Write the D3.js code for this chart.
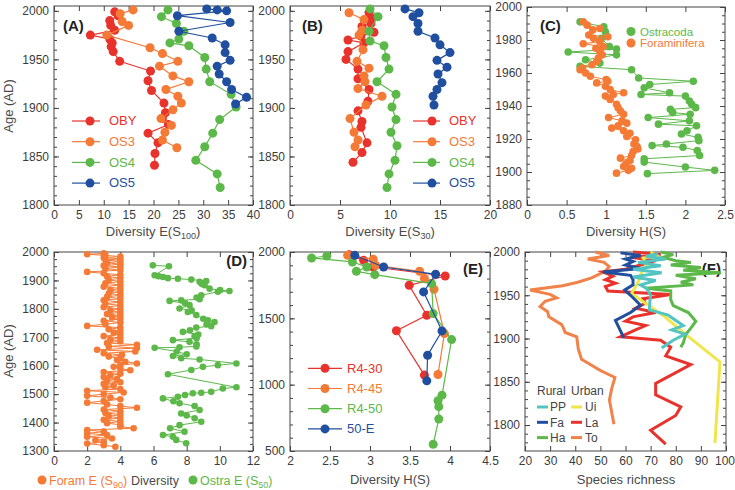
<!DOCTYPE html>
<html>
<head>
<meta charset="utf-8">
<script src="https://cdn.jsdelivr.net/npm/d3@7"></script>
<style>
  body { margin: 0; background: #fff; }
  text { font-family: "Liberation Sans", Arial, sans-serif; }
</style>
</head>
<body>
<svg id="chart" width="735" height="490"></svg>
<script>
// ---- data: [year, value] ----
// (A) Diversity E(S100)
const obyA = [[1999,12.2],[1995,12.9],[1990,11.2],[1985,11.4],[1980,12.2],[1975,7.3],[1971,11.2],[1967,11.7],[1963,11.5],[1958,11.9],[1948,13.2],[1938,19.4],[1928,18.9],[1918,19.6],[1905,22.1],[1895,22.4],[1889,21.8],[1883,23.0],[1874,18.9],[1864,20.9],[1853,20.3],[1841,20.2]];
const os3A = [[2001,15.9],[1997,13.3],[1989,13.7],[1985,15.0],[1975,10.6],[1962,19.3],[1956,21.8],[1948,24.9],[1943,21.2],[1933,23.9],[1927,27.1],[1919,22.5],[1912,24.9],[1905,25.6],[1898,23.9],[1889,21.5],[1882,23.6],[1875,22.3],[1867,21.8],[1859,24.7]];
const os4A = [[2001,22.9],[1994,21.6],[1987,24.6],[1979,26.1],[1971,25.1],[1967,23.3],[1964,27.1],[1952,30.3],[1940,30.6],[1927,31.3],[1914,35.6],[1901,36.6],[1888,33.3],[1874,31.9],[1860,30.3],[1846,28.5],[1832,32.8],[1818,33.4]];
const os5A = [[2002,30.7],[2001,32.8],[2000,34.7],[1995,24.8],[1988,35.4],[1979,25.1],[1972,31.8],[1965,34.4],[1957,34.4],[1949,35.4],[1943,32.8],[1935,33.2],[1927,34.7],[1919,35.7],[1911,38.7],[1904,36.5]];

// (B) Diversity E(S30)
const obyB = [[1998,7.9],[1993,8.1],[1987,8.1],[1984,7.2],[1978,8.4],[1974,7.1],[1970,5.8],[1967,7.4],[1958,5.8],[1950,5.6],[1940,6.8],[1930,6.8],[1919,7.9],[1907,7.8],[1897,6.8],[1886,7.2],[1880,7.1],[1864,7.7],[1854,7.2],[1844,6.3]];
const os3B = [[1998,5.9],[1991,7.4],[1980,7.2],[1975,6.9],[1960,7.3],[1948,6.7],[1941,7.9],[1933,7.4],[1927,7.5],[1920,6.8],[1912,9.2],[1903,7.6],[1889,6.0],[1875,6.4],[1867,6.8],[1860,6.5]];
const os4B = [[2002,8.0],[1994,8.8],[1979,7.9],[1969,8.0],[1964,9.4],[1952,9.6],[1940,9.9],[1927,8.7],[1914,10.6],[1901,10.2],[1888,10.6],[1875,10.1],[1861,10.7],[1846,10.5],[1832,9.9],[1818,9.7]];
const os5B = [[2002,11.5],[1998,12.9],[1994,12.3],[1987,12.8],[1979,12.8],[1972,14.5],[1965,15.0],[1957,16.0],[1949,14.7],[1942,15.7],[1935,14.8],[1926,15.2],[1919,14.7],[1912,14.3],[1903,14.4]];

// (C) Diversity H(S)
const ostracodaC = [[1991,0.67],[1988,0.97],[1985,0.99],[1981,0.94],[1976,1.04],[1974.5,1.13],[1972.7,0.52],[1971,1.13],[1968,0.74],[1966,0.92],[1964,0.67],[1962,1.32],[1957,1.41],[1955,2.10],[1953,1.55],[1951,1.48],[1948,1.80],[1947,1.44],[1946,2.00],[1943,2.05],[1941,2.08],[1939,2.13],[1938,1.81],[1936,1.84],[1935,2.06],[1933,1.53],[1931,2.05],[1929,1.66],[1928,2.14],[1925,2.02],[1923,1.95],[1921,2.16],[1919,2.17],[1917,1.76],[1916,1.58],[1915,1.97],[1913,2.15],[1910,2.18],[1908,1.48],[1906,1.48],[1903,2.00],[1901,2.37],[1899,1.52]];
const foramC = [[1991,0.71],[1989,0.76],[1987,0.92],[1986,0.83],[1983,0.78],[1982,1.02],[1981,0.84],[1979,0.92],[1977.7,0.71],[1976,0.96],[1975,0.87],[1973,0.92],[1971,0.95],[1969,0.90],[1967,0.88],[1965,0.82],[1963,0.70],[1962,0.67],[1960,0.74],[1958,0.80],[1956,1.00],[1955,1.02],[1954,0.88],[1952,0.99],[1950,1.05],[1948,1.22],[1947,1.09],[1946,0.99],[1944,1.05],[1941,1.13],[1939,1.15],[1937,1.18],[1935,1.22],[1933,1.03],[1931,1.20],[1929.6,1.26],[1928,1.15],[1926.6,1.07],[1925,1.22],[1923.5,1.30],[1921.5,1.26],[1919.5,1.37],[1917,1.35],[1915.4,1.39],[1914,1.40],[1912.4,1.34],[1910,1.32],[1908.4,1.18],[1907,1.30],[1905,1.25],[1903.3,1.22],[1902.3,1.32],[1901,1.28],[1899.3,1.13]];

// (D) Foram E(S90) and Ostra E(S50)
const foramD = [[1995,3.0],[1992,2.0],[1988,3.1],[1984,4.0],[1980,3.0],[1976,4.0],[1972,3.1],[1967,4.0],[1962,3.2],[1957,4.0],[1952,3.0],[1947,4.0],[1942,3.1],[1936,4.0],[1930,2.0],[1925,3.0],[1920,4.0],[1914,3.2],[1908,4.0],[1902,3.3],[1896,4.0],[1890,3.1],[1884,4.0],[1878,3.0],[1872,4.0],[1866,3.4],[1860,4.0],[1854,3.3],[1848,4.0],[1842,3.2],[1836,4.0],[1830,3.0],[1824,4.0],[1818,3.1],[1812,4.0],[1806,3.0],[1800,4.0],[1794,3.4],[1788,4.0],[1782,3.2],[1776,4.0],[1770,3.5],[1764,4.0],[1758,3.0],[1752,4.0],[1746,3.1],[1740,2.0],[1734,4.0],[1728,3.3],[1722,4.0],[1716,3.6],[1710,4.0],[1704,3.0],[1698,4.0],[1692,3.4],[1686,4.0],[1680,3.2],[1674,5.0],[1668,3.3],[1662,5.0],[1656,2.6],[1650,4.9],[1644,3.0],[1638,4.1],[1632,3.3],[1626,4.0],[1620,3.8],[1614,4.3],[1608,5.0],[1602,4.0],[1596,3.6],[1590,4.0],[1584,4.6],[1578,3.0],[1572,4.0],[1566,3.4],[1560,3.0],[1554,3.8],[1548,3.2],[1542,4.0],[1536,3.0],[1530,3.6],[1524,3.1],[1518,4.0],[1512,2.0],[1506,4.2],[1500,3.0],[1494,2.0],[1488,3.4],[1482,4.0],[1476,3.0],[1470,2.0],[1464,3.2],[1458,4.0],[1452,5.0],[1446,3.0],[1440,4.0],[1434,3.1],[1428,4.0],[1422,3.3],[1416,4.0],[1410,3.0],[1404,4.0],[1398,3.2],[1392,4.0],[1386,4.0],[1380,4.8],[1374,2.0],[1368,3.0],[1362,2.0],[1356,3.2],[1350,2.0],[1344,3.5],[1338,2.5],[1332,3.0],[1326,2.0],[1320,3.0],[1315,3.7]];
const ostraD = [[1953,5.96],[1950,6.93],[1918,6.07],[1915,6.3],[1912,6.57],[1908,6.87],[1906,7.47],[1903,8.28],[1898,9.18],[1895,8.78],[1888,8.9],[1883,9.08],[1871,9.38],[1866,10.02],[1863,10.58],[1860,9.88],[1848,8.88],[1840,8.6],[1834,8.78],[1830,7.67],[1828,6.97],[1820,7.9],[1813,8.17],[1801,7.57],[1795,8.3],[1789,8.07],[1778,8.58],[1765,9.0],[1760,9.28],[1754,9.68],[1745,9.2],[1739,9.48],[1734,8.58],[1725,8.2],[1719,7.77],[1710,8.7],[1704,8.48],[1697,8.6],[1690,7.17],[1684,8.17],[1675,8.6],[1668,8.58],[1665,7.57],[1663,6.07],[1650,7.4],[1640,8.0],[1634,7.17],[1626,7.67],[1622,8.78],[1608,11.0],[1602,9.88],[1596,8.98],[1585,8.28],[1570,6.87],[1524,11.0],[1520,10.18],[1508,9.48],[1505,8.88],[1503,8.37],[1497,7.9],[1491,7.47],[1485,6.57],[1475,7.2],[1468,7.57],[1458,8.48],[1444,8.78],[1432,7.67],[1425,8.0],[1415,8.48],[1403,8.88],[1391,7.57],[1380,7.0],[1368,7.87],[1356,6.57],[1350,7.17],[1339,7.37],[1327,7.97]];

// (E) Diversity H(S)
const r430 = [[1980,2.74],[1937,2.92],[1887,3.04],[1819,3.94],[1749,3.49],[1523,3.71],[1406,3.33],[1072,3.68]];
const r445 = [[1975,2.72],[1945,3.04],[1900,3.07],[1855,3.62],[1800,3.68],[1719,3.80],[1385,3.93],[1077,3.85]];
const r450 = [[1970,2.46],[1955,2.27],[1925,2.78],[1887,2.96],[1855,2.83],[1829,3.06],[1762,3.77],[1536,3.79],[1340,4.02],[921,3.90],[879,3.85],[834,3.86],[741,3.86],[550,3.79]];
const e50 = [[1975,2.81],[1887,3.17],[1832,3.82],[1699,3.67],[1405,3.90],[1222,3.72],[1029,3.71]];

// (F) Species richness
const ppF = [[1998,73],[1995,68],[1992,76],[1988,65],[1984,74],[1980,63],[1976,74.4],[1971,63],[1967,72],[1962,66],[1958,68.4],[1950,70],[1942,69.7],[1933,69.5],[1927,77],[1915,83],[1910,78.4],[1905,83.7],[1898,79],[1889,74.4]];
const faF = [[1999,58],[1996,66],[1992,60],[1989,63],[1985,60],[1981,66],[1977,51],[1973,62],[1968,63],[1962,63],[1956,59.7],[1950,62],[1938.5,66],[1930,62],[1921,56],[1901,59.3]];
const haF = [[2000,74],[1997,79],[1994,75],[1990,80],[1988,86],[1985,78],[1982,90],[1979,83],[1976,98],[1973,80],[1969,88],[1965,82],[1962,87],[1958,68],[1955,78],[1950,78],[1945,78],[1938,79],[1930,85],[1920,88],[1912,86],[1905,84],[1895,83],[1890,82]];
const uiF = [[2000,70],[1996,72.4],[1993,67],[1986,68.4],[1976,66.4],[1965,65],[1952,62.4],[1925,75.7],[1904,84.3],[1873,97.6],[1779,95.6]];
const laF = [[2000,63],[1997,74],[1994,62],[1990,72],[1985,66],[1980,60],[1977,51],[1972,55],[1968,52],[1964,56],[1960,52],[1955,53],[1951,78],[1946,67],[1941,68],[1935,64],[1930,72],[1925,63],[1920,60],[1915,68],[1910,64],[1902,58],[1898,74],[1890,78],[1880,76],[1870,86],[1848,72],[1835,72],[1821,82],[1811,80],[1794,70],[1778,76]];
const toF = [[2000,48],[1996,53.5],[1992,45],[1988,51.5],[1983,53.5],[1978,52],[1975,50],[1970,46.5],[1965,41],[1961,35],[1956,22],[1951,30],[1947,32.6],[1943,28],[1937,26],[1931,29],[1925,29.5],[1916,34.6],[1912,35.3],[1907,36],[1902,40.6],[1888,41.2],[1876,42.5],[1863,50],[1855,55.8],[1842,54.5],[1829,53.6],[1801,55.4]];

const RED = "#e8322c", ORANGE = "#f47a36", GREEN = "#5db84a", BLUE = "#1f4f9e";
const CYAN = "#52c4c2", YELLOW = "#efe64c", SALMON = "#f0824a";
const TXT = "#3c3c3c";

const svg = d3.select("#chart");

function panel(p) {
  const g = svg.append("g");
  const x = d3.scaleLinear().domain(p.xdom).range([p.x0, p.x1]);
  const y = d3.scaleLinear().domain(p.ydom).range([p.y1, p.y0]);
  const sides = [
    [d3.axisBottom, `translate(0,${p.y1})`, x, p.xticks, p.xminor, true],
    [d3.axisTop, `translate(0,${p.y0})`, x, p.xticks, null, false],
    [d3.axisLeft, `translate(${p.x0},0)`, y, p.yticks, p.yminor, true],
    [d3.axisRight, `translate(${p.x1},0)`, y, p.yticks, p.yminor, false]
  ];
  sides.forEach(([fn, tr, sc, major, minor, lab]) => {
    if (minor) {
      g.append("g").attr("transform", tr)
        .call(fn(sc).tickValues(minor).tickSize(-3).tickFormat(""))
        .call(a => a.select(".domain").remove())
        .selectAll("line").attr("stroke", "#444");
    }
    const ax = g.append("g").attr("transform", tr)
      .call(fn(sc).tickValues(major).tickSize(-5).tickPadding(5).tickFormat(lab ? d3.format("") : ""));
    ax.select(".domain").remove();
    ax.selectAll("line").attr("stroke", "#444");
    ax.selectAll("text").attr("fill", TXT).style("font-size", "12px");
  });
  g.append("rect").attr("x", p.x0).attr("y", p.y0)
    .attr("width", p.x1 - p.x0).attr("height", p.y1 - p.y0)
    .attr("fill", "none").attr("stroke", "#444").attr("stroke-width", 1);
  g.append("text").attr("x", p.lx).attr("y", p.ly).attr("text-anchor", p.lanchor || "start")
    .attr("font-weight", "bold").attr("font-size", 15).attr("fill", "#222").text(p.label);
  return { g, x, y };
}

function series(P, data, color, r, lw) {
  P.g.append("path").datum(data)
    .attr("fill", "none").attr("stroke", color).attr("stroke-width", lw)
    .attr("d", d3.line().x(d => P.x(d[1])).y(d => P.y(d[0])));
  if (r > 0) {
    P.g.selectAll(null).data(data).join("circle")
      .attr("cx", d => P.x(d[1])).attr("cy", d => P.y(d[0]))
      .attr("r", r).attr("fill", color);
  }
}

function legendRow(x1, x2, xm, xt, yc, color, name, r, lw, fs) {
  svg.append("line").attr("x1", x1).attr("x2", x2).attr("y1", yc).attr("y2", yc)
    .attr("stroke", color).attr("stroke-width", lw);
  if (r > 0) svg.append("circle").attr("cx", xm).attr("cy", yc).attr("r", r).attr("fill", color);
  svg.append("text").attr("x", xt).attr("y", yc + 4.3).attr("font-size", fs || 13)
    .attr("fill", color).text(name);
}

function subTitle(x, y, pre, sub, post, color, anchor, fs) {
  const t = svg.append("text").attr("x", x).attr("y", y)
    .attr("text-anchor", anchor || "middle").attr("font-size", fs || 13).attr("fill", color || "#4a4a4a");
  t.append("tspan").text(pre);
  if (sub) {
    t.append("tspan").attr("dy", 3).attr("font-size", 9).text(sub);
    t.append("tspan").attr("dy", -3).text(post);
  }
  return t;
}

const range = (a, b, s) => d3.range(a, b + s / 2, s);

// ---- top row ----
const A = panel({ x0: 54, x1: 253, y0: 6, y1: 205, xdom: [0, 40], ydom: [1800, 2005],
  xticks: range(0, 40, 5), yticks: range(1800, 2000, 50), yminor: range(1800, 2000, 10),
  label: "(A)", lx: 63, ly: 31 });
series(A, obyA, RED, 4.5, 1.2);
series(A, os3A, ORANGE, 4.5, 1.2);
series(A, os4A, GREEN, 4.5, 1.2);
series(A, os5A, BLUE, 4.5, 1.2);
[["OBY", RED], ["OS3", ORANGE], ["OS4", GREEN], ["OS5", BLUE]].forEach(([n, c], i) =>
  legendRow(72, 100, 90, 109, 121 + i * 20.7, c, n, 4.5, 1.2));

const B = panel({ x0: 290, x1: 490, y0: 6, y1: 205, xdom: [0, 20], ydom: [1800, 2005],
  xticks: range(0, 20, 5), yticks: range(1800, 2000, 50), yminor: range(1800, 2000, 10),
  label: "(B)", lx: 302, ly: 31 });
series(B, obyB, RED, 4.5, 1.2);
series(B, os3B, ORANGE, 4.5, 1.2);
series(B, os4B, GREEN, 4.5, 1.2);
series(B, os5B, BLUE, 4.5, 1.2);
[["OBY", RED], ["OS3", ORANGE], ["OS4", GREEN], ["OS5", BLUE]].forEach(([n, c], i) =>
  legendRow(413, 440, 432, 449, 121 + i * 20.7, c, n, 4.5, 1.2));

const C = panel({ x0: 527, x1: 725, y0: 7, y1: 205, xdom: [0, 2.5], ydom: [1880, 2000],
  xticks: range(0, 2.5, 0.5), yticks: range(1880, 2000, 20), yminor: range(1880, 2000, 5),
  label: "(C)", lx: 540, ly: 31 });
series(C, ostracodaC, GREEN, 3.8, 1);
series(C, foramC, ORANGE, 3.8, 1);
legendRow(631, 631, 631, 640, 31.5, GREEN, "Ostracoda", 4.5, 0, 11.5);
legendRow(631, 631, 631, 640, 43, ORANGE, "Foraminifera", 4.5, 0, 11.5);

// ---- bottom row ----
const D = panel({ x0: 54, x1: 253, y0: 252, y1: 451, xdom: [0, 12], ydom: [1300, 2000],
  xticks: range(0, 12, 2), yticks: range(1300, 2000, 100), yminor: range(1300, 2000, 25),
  label: "(D)", lx: 247, ly: 266, lanchor: "end" });
series(D, foramD, ORANGE, 3.3, 1);
series(D, ostraD, GREEN, 3.3, 1);

const E = panel({ x0: 290, x1: 490, y0: 252, y1: 451, xdom: [2, 4.5], ydom: [500, 2000],
  xticks: range(2, 4.5, 0.5), yticks: range(500, 2000, 500), yminor: range(500, 2000, 100),
  label: "(E)", lx: 483, ly: 274, lanchor: "end" });
series(E, r430, RED, 4.5, 1.2);
series(E, r445, ORANGE, 4.5, 1.2);
series(E, r450, GREEN, 4.5, 1.2);
series(E, e50, BLUE, 4.5, 1.2);
[["R4-30", RED], ["R4-45", ORANGE], ["R4-50", GREEN], ["50-E", BLUE]].forEach(([n, c], i) =>
  legendRow(308, 342, 325, 347, 368.3 + i * 20.2, c, n, 4.5, 1.2));

const F = panel({ x0: 525, x1: 726, y0: 252, y1: 451, xdom: [20, 100], ydom: [1770, 2000],
  xticks: range(20, 100, 10), yticks: range(1800, 2000, 50), yminor: range(1780, 2000, 10),
  label: "(F)", lx: 721, ly: 274, lanchor: "end" });
// keep the last x label "100" inside the page
F.g.selectAll("text").filter(function () { return d3.select(this).text() === "100"; })
  .attr("text-anchor", "end").attr("x", 8.5);
series(F, toF, SALMON, 0, 3);
series(F, laF, RED, 0, 3);
series(F, uiF, YELLOW, 0, 3);
series(F, haF, GREEN, 0, 3);
series(F, faF, BLUE, 0, 3);
series(F, ppF, CYAN, 0, 3);
svg.append("text").attr("x", 537).attr("y", 395).attr("font-size", 12).attr("fill", "#444").text("Rural");
svg.append("text").attr("x", 571).attr("y", 395).attr("font-size", 12).attr("fill", "#444").text("Urban");
[["PP", CYAN, "Ui", YELLOW], ["Fa", BLUE, "La", RED], ["Ha", GREEN, "To", SALMON]].forEach(([n1, c1, n2, c2], i) => {
  const yc = 407 + i * 15.3;
  svg.append("line").attr("x1", 537).attr("x2", 548).attr("y1", yc).attr("y2", yc).attr("stroke", c1).attr("stroke-width", 3);
  svg.append("text").attr("x", 550).attr("y", yc + 4.3).attr("font-size", 12).attr("fill", "#444").text(n1);
  svg.append("line").attr("x1", 571).attr("x2", 582).attr("y1", yc).attr("y2", yc).attr("stroke", c2).attr("stroke-width", 3);
  svg.append("text").attr("x", 585).attr("y", yc + 4.3).attr("font-size", 12).attr("fill", "#444").text(n2);
});

// ---- axis titles ----
subTitle(153, 236, "Diversity E(S", "100", ")");
subTitle(390, 236, "Diversity E(S", "30", ")");
subTitle(626, 236, "Diversity H(S)");
subTitle(390, 484, "Diversity H(S)");
subTitle(626, 484, "Species richness");
[106, 351].forEach(yc =>
  svg.append("text").attr("transform", `translate(13,${yc}) rotate(-90)`)
    .attr("text-anchor", "middle").attr("font-size", 13).attr("fill", "#4a4a4a").text("Age (AD)"));

// (D) colour-keyed x title
svg.append("circle").attr("cx", 42).attr("cy", 480).attr("r", 4.5).attr("fill", ORANGE);
subTitle(49, 484.5, "Foram E (S", "90", ")", ORANGE, "start", 12.5);
svg.append("text").attr("x", 131).attr("y", 484.5).attr("font-size", 12.5).attr("fill", "#4a4a4a").text("Diversity");
svg.append("circle").attr("cx", 193).attr("cy", 480).attr("r", 4.5).attr("fill", GREEN);
subTitle(200, 484.5, "Ostra E (S", "50", ")", GREEN, "start", 12.5);
</script>
</body>
</html>
